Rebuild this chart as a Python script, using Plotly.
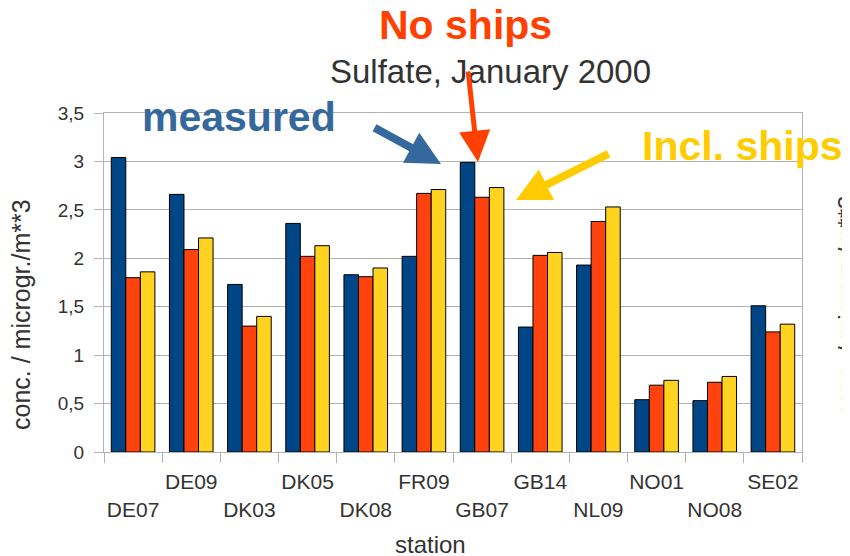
import plotly.graph_objects as go

stations = ["DE07", "DE09", "DK03", "DK05", "DK08", "FR09",
            "GB07", "GB14", "NL09", "NO01", "NO08", "SE02"]
measured = [3.04, 2.66, 1.73, 2.36, 1.83, 2.02, 2.99, 1.29, 1.93, 0.54, 0.53, 1.51]
no_ships = [1.80, 2.09, 1.30, 2.02, 1.81, 2.67, 2.63, 2.03, 2.38, 0.69, 0.72, 1.24]
incl_ships = [1.86, 2.21, 1.40, 2.13, 1.90, 2.71, 2.73, 2.06, 2.53, 0.74, 0.78, 1.32]
y_ticks = [0, 0.5, 1, 1.5, 2, 2.5, 3, 3.5]

title_text = "Sulfate, January 2000"
y_title = "conc. / microgr./m**3"
x_title = "station"

C_BLUE = "#004586"
C_RED = "#ff420e"
C_YEL = "#ffd320"
C_TXT = "#333333"
C_GRID = "#b3b3b3"
FONT = "Liberation Sans, Arial, sans-serif"

OFF = 8  # page body margin
W, H = 850, 556
# plot area in screen pixels: x 104..802, y 113..452
L = 104 - OFF
T = 113 - OFF
R = W - (802 - OFF)
B = H - (452 - OFF)
PW, PH = 802 - 104, 452 - 113


def px(x):
    return (x - 104) / PW


def py(y):
    return (452 - y) / PH


fig = go.Figure()
for name, vals, col in [("measured", measured, C_BLUE),
                        ("No ships", no_ships, C_RED),
                        ("Incl. ships", incl_ships, C_YEL)]:
    fig.add_trace(go.Bar(x=stations, y=vals, name=name,
                         marker=dict(color=col, line=dict(color="#000000", width=1))))

ticktext = [("<br>" + s) if i % 2 == 0 else s for i, s in enumerate(stations)]

annotations = [
    dict(text=title_text, x=px(490), y=py(71), font=dict(size=33, color=C_TXT)),
    dict(text="<b>No ships</b>", x=px(465), y=py(25), font=dict(size=41, color="#ff4000")),
    dict(text="<b>measured</b>", x=px(239), y=py(117), font=dict(size=41, color="#35689c")),
    dict(text="<b>Incl. ships</b>", x=px(742), y=py(146), font=dict(size=41, color="#ffcc00")),
    dict(text=y_title, x=px(21), y=py(315), textangle=-90, font=dict(size=25, color=C_TXT)),
    dict(text=y_title, x=px(846), y=py(307), textangle=-90, font=dict(size=24, color=C_TXT)),
    dict(text=x_title, x=px(430), y=py(544), font=dict(size=24, color=C_TXT)),
]
for a in annotations:
    a.update(xref="paper", yref="paper", showarrow=False, xanchor="center", yanchor="middle")

arrows = [
    dict(x=px(441), y=py(164), ax=-68, ay=-37, arrowcolor="#35689c", arrowwidth=8, arrowsize=0.85),
    dict(x=px(478), y=py(162), ax=-10, ay=-92, arrowcolor="#ff4000", arrowwidth=5, arrowsize=1.25),
    dict(x=px(516), y=py(200), ax=94, ay=-47, arrowcolor="#ffcc00", arrowwidth=8, arrowsize=0.85),
]
for a in arrows:
    a.update(xref="paper", yref="paper", axref="pixel", ayref="pixel", text="",
             showarrow=True, arrowhead=2, standoff=0)

fig.update_layout(
    width=W, height=H, autosize=False,
    margin=dict(l=L, r=R, t=T, b=B, pad=0),
    paper_bgcolor="white", plot_bgcolor="white",
    font=dict(family=FONT, color=C_TXT),
    separators=", ",
    showlegend=False,
    bargap=0.25, bargroupgap=0,
    annotations=annotations + arrows,
    xaxis=dict(type="category", tickmode="array", tickvals=stations, ticktext=ticktext,
               tickson="boundaries", ticks="outside", ticklen=10, tickcolor=C_GRID,
               tickangle=0, automargin=False, ticklabelstandoff=11,
               showline=True, linecolor=C_GRID, mirror=True, showgrid=False,
               tickfont=dict(size=21, color=C_TXT)),
    yaxis=dict(range=[0, 3.5], tickmode="array", tickvals=y_ticks, automargin=False,
               ticks="outside", ticklen=9, tickcolor=C_GRID, ticklabelstandoff=6,
               showline=True, linecolor=C_GRID, mirror=True,
               showgrid=True, gridcolor=C_GRID, zeroline=False,
               tickfont=dict(size=19, color=C_TXT)),
)

fig.write_html("out.html")
